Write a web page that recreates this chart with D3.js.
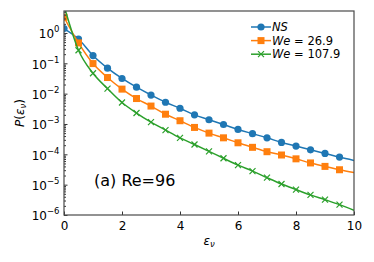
<!DOCTYPE html>
<html>
<head>
<meta charset="utf-8">
<script src="https://cdn.jsdelivr.net/npm/d3@7"></script>
<style>
  body { margin: 0; background: #fff; }
  text { font-family: "DejaVu Sans", sans-serif; fill: #000; }
</style>
</head>
<body>
<div id="chart"></div>
<script>
// chart size
var svgWidth = 374;
var svgHeight = 262;

var margin = { top: 11, right: 20, bottom: 47, left: 64 };
var width = 354 - margin.left;
var height = 215 - margin.top;

// data, eps = 0 .. 10 step 0.5
var eps = [0, 0.5, 1, 1.5, 2, 2.5, 3, 3.5, 4, 4.5, 5, 5.5, 6, 6.5, 7, 7.5, 8, 8.5, 9, 9.5, 10];
var pNS = [1.4, 0.63, 0.18, 0.069, 0.0316, 0.0163, 0.0090, 0.0052, 0.0033, 0.0020,
  0.00138, 0.00096, 0.00066, 0.00048, 0.00035, 0.000246, 0.000187, 0.000141, 0.000107, 8.1e-5, 6.3e-5];
var pWe269 = [3.3, 0.47, 0.098, 0.034, 0.0141, 0.0069, 0.0039, 0.0021, 0.00128, 0.00077,
  0.00050, 0.00035, 0.00024, 0.00017, 0.000122, 9.5e-5, 7.1e-5, 5.2e-5, 4.0e-5, 3.1e-5, 2.5e-5];
var pWe1079 = [8, 0.27, 0.047, 0.0147, 0.0051, 0.0023, 0.00115, 0.00063, 0.00035, 0.00021,
  0.000125, 7.4e-5, 4.4e-5, 2.8e-5, 1.7e-5, 1.05e-5, 6.9e-6, 4.6e-6, 3.2e-6, 2.2e-6, 1.43e-6];

var xTicks = [0, 2, 4, 6, 8, 10];
var yTicks = [1e-6, 1e-5, 1e-4, 1e-3, 1e-2, 1e-1, 1e0];

var series = [
  { name: "NS", values: pNS, color: "#1f77b4", marker: "circle" },
  { name: "26.9", values: pWe269, color: "#ff7f0e", marker: "square" },
  { name: "107.9", values: pWe1079, color: "#2ca02c", marker: "x" }
];

var svg = d3.select("#chart")
  .append("svg")
  .attr("width", svgWidth)
  .attr("height", svgHeight);

var chartGroup = svg.append("g")
  .attr("transform", `translate(${margin.left}, ${margin.top})`);

var xScale = d3.scaleLinear().domain([0, 10]).range([0, width]);
var yScale = d3.scaleLog().domain([1e-6, 5.3]).range([height, 0]);

svg.append("defs").append("clipPath")
  .attr("id", "plotClip")
  .append("rect")
  .attr("width", width)
  .attr("height", height);

// draw one marker shape
function drawMarker(g, kind, color) {
  if (kind === "circle") {
    g.append("circle").attr("r", 3.6).attr("fill", color);
  } else if (kind === "square") {
    g.append("rect").attr("x", -3.5).attr("y", -3.5)
      .attr("width", 7).attr("height", 7).attr("fill", color);
  } else {
    g.append("path").attr("d", "M-3,-3L3,3M-3,3L3,-3")
      .attr("stroke", color).attr("stroke-width", 1.2).attr("fill", "none");
  }
}

// lines and markers
var plot = chartGroup.append("g").attr("clip-path", "url(#plotClip)");

var line = d3.line()
  .x((d, i) => xScale(eps[i]))
  .y(d => yScale(d))
  .curve(d3.curveMonotoneX);

series.forEach(function (s) {
  plot.append("path")
    .datum(s.values)
    .attr("d", line)
    .attr("fill", "none")
    .attr("stroke", s.color)
    .attr("stroke-width", 1.5);

  s.values.forEach(function (v, i) {
    if (i === eps.length - 1) return;
    var m = plot.append("g")
      .attr("transform", `translate(${xScale(eps[i])}, ${yScale(v)})`);
    drawMarker(m, s.marker, s.color);
  });
});

// axes (ticks inward)
var bottomAxis = d3.axisBottom(xScale)
  .tickValues(xTicks)
  .tickSize(-3.5)
  .tickPadding(6)
  .tickFormat(d3.format("d"));

var xAxis = chartGroup.append("g")
  .attr("transform", `translate(0, ${height})`)
  .call(bottomAxis);
xAxis.select(".domain").remove();
xAxis.selectAll("text").attr("font-size", "12px").attr("font-family", "DejaVu Sans").attr("dy", "0.72em");

var minorTicks = [];
yTicks.forEach(function (t) {
  for (var k = 2; k <= 9; k++) {
    if (t * k <= 5.3) minorTicks.push(t * k);
  }
});

var yMinor = chartGroup.append("g")
  .call(d3.axisLeft(yScale).tickValues(minorTicks).tickSize(-2).tickFormat(""));
yMinor.select(".domain").remove();

var yAxis = chartGroup.append("g")
  .call(d3.axisLeft(yScale).tickValues(yTicks).tickSize(-3.5).tickPadding(5).tickFormat(""));
yAxis.select(".domain").remove();

yAxis.selectAll(".tick").append("text")
  .attr("x", -4.5)
  .attr("dy", "0.4em")
  .attr("text-anchor", "end")
  .attr("font-size", "12px")
  .each(function (d) {
    var t = d3.select(this);
    t.append("tspan").text("10");
    t.append("tspan")
      .attr("font-size", "8.5px")
      .attr("dy", "-0.7em")
      .text(String(Math.round(Math.log10(d))).replace("-", "\u2212"));
  });

chartGroup.selectAll(".tick line").attr("stroke", "#333");

// frame
chartGroup.append("rect")
  .attr("width", width)
  .attr("height", height)
  .attr("fill", "none")
  .attr("stroke", "#4a4a4a")
  .attr("stroke-width", 1.2);

// axis labels
var xLabel = svg.append("text")
  .attr("x", margin.left + width / 2)
  .attr("y", 245)
  .attr("text-anchor", "middle")
  .attr("font-size", "12px");
xLabel.append("tspan").attr("font-style", "italic").text("ε");
xLabel.append("tspan").attr("font-style", "italic").attr("font-size", "8.5px").attr("dy", "2").text("ν");

var yLabel = svg.append("text")
  .attr("transform", `translate(24, ${margin.top + height / 2}) rotate(-90)`)
  .attr("text-anchor", "middle")
  .attr("font-size", "12px");
yLabel.append("tspan").attr("font-style", "italic").text("P");
yLabel.append("tspan").text("(");
yLabel.append("tspan").attr("font-style", "italic").text("ε");
yLabel.append("tspan").attr("font-style", "italic").attr("font-size", "8.5px").attr("dy", "2").text("ν");
yLabel.append("tspan").attr("dy", "-2").text(")");

// annotation
svg.append("text")
  .attr("x", 94)
  .attr("y", 186)
  .attr("font-size", "16px")
  .text("(a) Re=96");

// legend
var legend = svg.append("g").attr("transform", "translate(251, 27)");
series.forEach(function (s, i) {
  var row = legend.append("g").attr("transform", `translate(0, ${i * 13.6})`);
  row.append("line")
    .attr("x1", 0).attr("x2", 20)
    .attr("stroke", s.color).attr("stroke-width", 1.5);
  var m = row.append("g").attr("transform", "translate(10, 0)");
  drawMarker(m, s.marker, s.color);
  var label = row.append("text")
    .attr("x", 21)
    .attr("dy", "0.37em")
    .attr("font-size", "11.5px");
  if (s.name === "NS") {
    label.append("tspan").attr("font-style", "italic").text("NS");
  } else {
    label.append("tspan").attr("font-style", "italic").text("We");
    label.append("tspan").text(" = " + s.name);
  }
});
</script>
</body>
</html>
